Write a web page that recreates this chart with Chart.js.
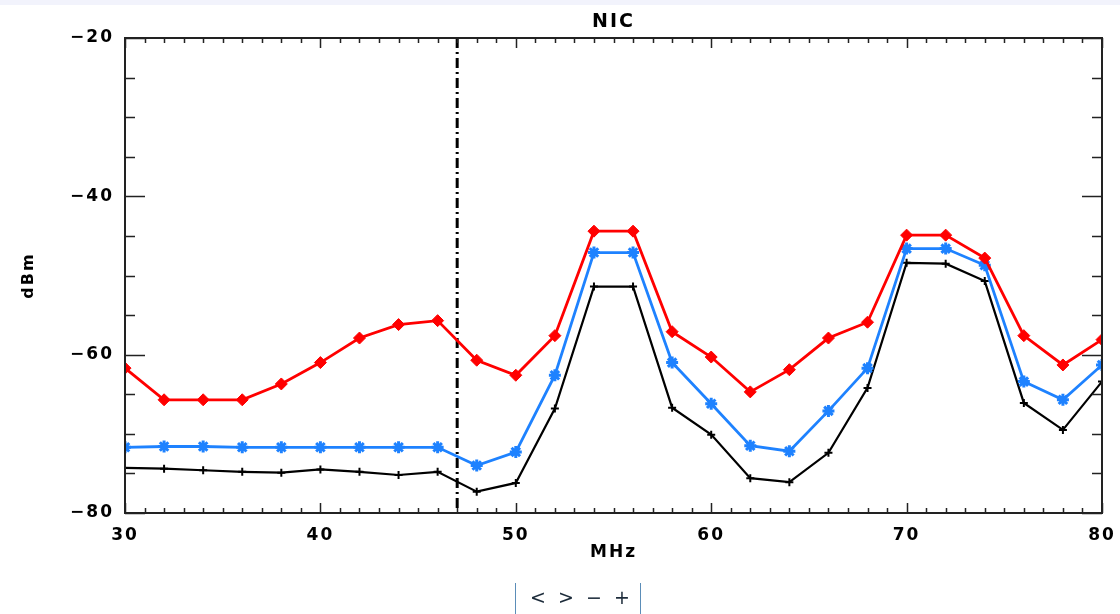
<!DOCTYPE html>
<html>
<head>
<meta charset="utf-8">
<script src="https://cdn.jsdelivr.net/npm/chart.js@4/dist/chart.umd.min.js"></script>
<style>
html,body{margin:0;padding:0;background:#fff;width:1120px;height:614px;overflow:hidden;}
#strip{position:absolute;left:0;top:0;width:1120px;height:5px;background:#f2f3fc;}
#wrap{position:absolute;left:0;top:0;width:1120px;height:614px;}
#nav{position:absolute;left:515px;top:583px;width:126px;height:31px;border-left:1px solid #5b8db8;border-right:1px solid #5b8db8;font-family:'DejaVu Sans',sans-serif;font-size:19px;color:#1c2b3a;line-height:29px;padding-left:8px;box-sizing:border-box;}
#nav span{display:inline-block;width:28px;text-align:center;}
</style>
</head>
<body>
<div id="strip"></div>
<div id="wrap"><canvas id="c" width="1120" height="614"></canvas></div>
<div id="nav"><span>&lt;</span><span>&gt;</span><span>−</span><span>+</span></div>
<script>
const freqs = [30,32,34,36,38,40,42,44,46,48,50,52,54,56,58,60,62,64,66,68,70,72,74,76,78,80];
const redSeries = [-61.7,-65.7,-65.7,-65.7,-63.7,-61.0,-57.9,-56.2,-55.7,-60.7,-62.6,-57.6,-44.4,-44.4,-57.1,-60.3,-64.7,-61.9,-57.9,-55.9,-44.9,-44.9,-47.8,-57.6,-61.3,-58.1];
const blueSeries = [-71.7,-71.6,-71.6,-71.7,-71.7,-71.7,-71.7,-71.7,-71.7,-74.0,-72.3,-62.6,-47.1,-47.1,-61.0,-66.2,-71.5,-72.2,-67.1,-61.7,-46.6,-46.6,-48.7,-63.4,-65.7,-61.3];
const blackSeries = [-74.3,-74.4,-74.6,-74.8,-74.9,-74.5,-74.8,-75.2,-74.8,-77.3,-76.2,-66.8,-51.4,-51.4,-66.7,-70.1,-75.6,-76.1,-72.4,-64.2,-48.4,-48.5,-50.7,-66.1,-69.5,-63.4];
const markerFreq = [47];
const xRange = [30, 80];
const yRange = [-80, -20];

const axisFont = {family:"'DejaVu Sans', sans-serif", size:17, weight:'bold'};
const titleFont = {family:"'DejaVu Sans', sans-serif", size:19, weight:'bold'};

const frame = {
  id:'frame',
  beforeDraw(chart){ chart.ctx.letterSpacing = '2px'; },
  beforeDatasetsDraw(chart){
    const {ctx, chartArea:a, scales} = chart;
    ctx.save();
    ctx.strokeStyle = '#000';
    ctx.lineWidth = 3;
    ctx.setLineDash([10,4,2,4]);
    markerFreq.forEach(f=>{
      const px = scales.x.getPixelForValue(f);
      ctx.beginPath(); ctx.moveTo(px, a.top); ctx.lineTo(px, a.bottom); ctx.stroke();
    });
    ctx.restore();
  },
  afterDraw(chart){
    const {ctx, chartArea:a, scales} = chart;
    ctx.save();
    ctx.strokeStyle = '#222';
    ctx.lineWidth = 2;
    ctx.strokeRect(a.left, a.top, a.right-a.left, a.bottom-a.top);
    ctx.lineWidth = 1.5;
    ctx.beginPath();
    for(let v=xRange[0]; v<=xRange[1]; v+=1){
      const px = Math.round(scales.x.getPixelForValue(v))+0.5;
      const len = (v%10===0)?10:5;
      ctx.moveTo(px, a.bottom); ctx.lineTo(px, a.bottom-len);
      ctx.moveTo(px, a.top); ctx.lineTo(px, a.top+len);
    }
    for(let v=yRange[0]; v<=yRange[1]; v+=5){
      const py = Math.round(scales.y.getPixelForValue(v))+0.5;
      const len = (v%20===0)?20:10;
      ctx.moveTo(a.left, py); ctx.lineTo(a.left+len, py);
      ctx.moveTo(a.right, py); ctx.lineTo(a.right-len, py);
    }
    ctx.stroke();
    ctx.restore();
  }
};

function noPad(s){ s.paddingLeft = 0; s.paddingRight = 0; s.paddingTop = 0; s.paddingBottom = 0; }

const toXY = arr => freqs.map((f,i)=>({x:f, y:arr[i]}));

new Chart(document.getElementById('c'), {
  type:'line',
  data:{datasets:[
    {label:'red', data:toXY(redSeries), borderColor:'#ff0000', backgroundColor:'#ff0000', borderWidth:2.8,
     pointStyle:'rectRot', pointRadius:6, pointBorderWidth:1, tension:0},
    {label:'blue', data:toXY(blueSeries), borderColor:'#1e82ff', backgroundColor:'#1e82ff', borderWidth:2.8,
     pointStyle:'star', pointRadius:6, pointBorderWidth:3, tension:0},
    {label:'black', data:toXY(blackSeries), borderColor:'#000', backgroundColor:'#000', borderWidth:2.2,
     pointStyle:'cross', pointRadius:4, pointBorderWidth:2, tension:0}
  ]},
  options:{
    responsive:false, animation:false, devicePixelRatio:1,
    layout:{padding:{left:0, right:18, top:0, bottom:0}},
    plugins:{legend:{display:false}, tooltip:{enabled:false}, title:{display:false}},
    scales:{
      x:{type:'linear', position:'bottom', min:xRange[0], max:xRange[1],
         ticks:{stepSize:10, font:axisFont, color:'#000', padding:12, maxRotation:0},
         grid:{display:false, drawTicks:false}, border:{display:false},
         title:{display:true, text:'MHz', font:axisFont, color:'#000', padding:{top:0, bottom:51}},
         afterFit(s){ s.height = 101; noPad(s); }},
      x2:{type:'linear', position:'top', min:xRange[0], max:xRange[1],
         ticks:{display:false}, grid:{display:false, drawTicks:false}, border:{display:false},
         title:{display:true, text:'NIC', font:titleFont, color:'#000', padding:{top:11, bottom:0}},
         afterFit(s){ s.height = 38; noPad(s); }},
      y:{type:'linear', position:'left', min:yRange[0], max:yRange[1],
         ticks:{stepSize:20, font:axisFont, color:'#000', padding:11,
                callback:v => (v < 0 ? '\u2212' : '') + Math.abs(v)},
         grid:{display:false, drawTicks:false}, border:{display:false},
         title:{display:true, text:'dBm', font:{family:"'DejaVu Sans', sans-serif", size:16, weight:'bold'}, color:'#000', padding:{top:19, bottom:0}},
         afterFit(s){ s.width = 125; noPad(s); }}
    }
  },
  plugins:[frame]
});
</script>
</body>
</html>
